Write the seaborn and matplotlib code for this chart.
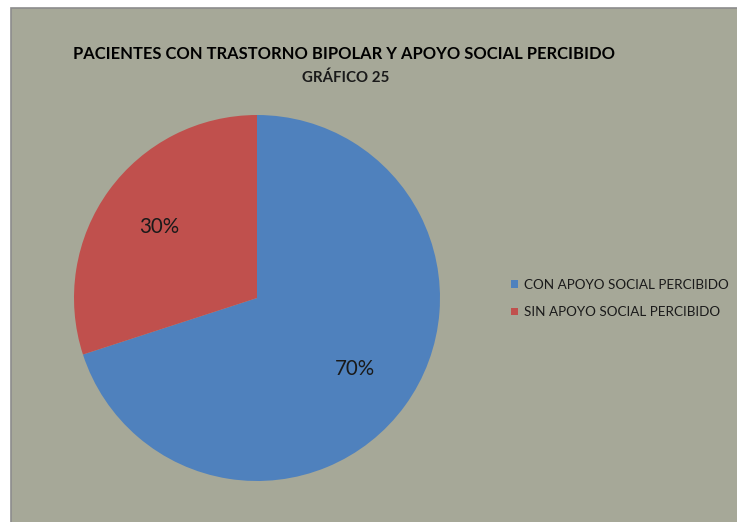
import matplotlib
matplotlib.use("Agg")
import matplotlib.pyplot as plt
from matplotlib.patches import Rectangle, Patch
import seaborn as sns

categories = ["CON APOYO SOCIAL PERCIBIDO", "SIN APOYO SOCIAL PERCIBIDO"]
values = [70, 30]
title_main = "PACIENTES CON TRASTORNO BIPOLAR Y APOYO SOCIAL PERCIBIDO"
title_sub = "GRÁFICO 25"

sns.set_theme(style="white")
plt.rcParams["font.family"] = ["Lato", "DejaVu Sans"]

W, H = 737, 522
colors = ["#4F81BD", "#C0504D"]
bg = "#A6A898"

fig = plt.figure(figsize=(W / 100, H / 100), dpi=100)
fig.patch.set_facecolor("white")

# chart area panel
fig.add_artist(Rectangle((11 / W, -0.01), 1.0, (H - 8) / H + 0.01,
                         transform=fig.transFigure, facecolor=bg,
                         edgecolor="#8C8C8C", linewidth=1.2, zorder=0))

cx, cy, r = 257, 298, 183
ax = fig.add_axes([(cx - r) / W, (H - cy - r) / H, 2 * r / W, 2 * r / H])
wedges, texts, autotexts = ax.pie(
    values, colors=colors, startangle=90, counterclock=False,
    autopct=lambda p: f"{p:.0f}%", pctdistance=0.66,
    wedgeprops=dict(linewidth=0),
    textprops=dict(fontsize=14.8, color="#1a1a1a"))
ax.set_xlim(-1, 1)
ax.set_ylim(-1, 1)
ax.set_aspect("equal")
ax.patch.set_alpha(0)

fig.text(344 / W, 1 - 59 / H, title_main, ha="center", va="baseline",
         fontsize=11.9, fontweight="bold", color="black")
fig.text(345.5 / W, 1 - 81.5 / H, title_sub, ha="center", va="baseline",
         fontsize=10.8, fontweight="bold", color="#1a1a1a")

handles = [Patch(facecolor=c, edgecolor="none") for c in colors]
leg = fig.legend(handles, categories, loc="center left",
                 bbox_to_anchor=(510.5 / W, 1 - 298.5 / H), frameon=False,
                 fontsize=9.75, handlelength=0.52, handleheight=0.52,
                 handletextpad=0.45, labelspacing=1.15, borderpad=0,
                 borderaxespad=0, labelcolor="#1a1a1a")

fig.savefig("out.png", dpi=100, facecolor=fig.get_facecolor())
